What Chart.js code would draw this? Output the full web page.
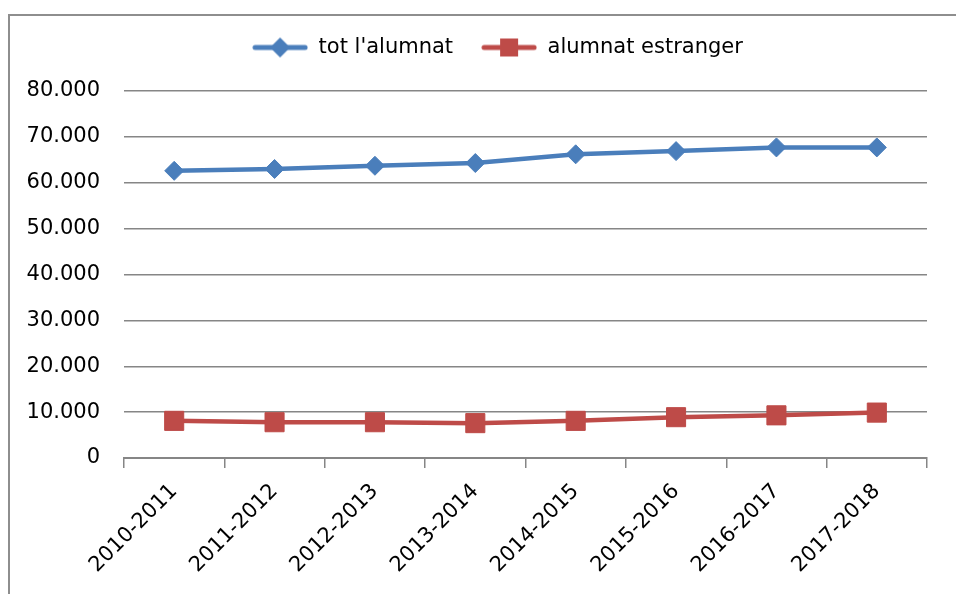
<!DOCTYPE html>
<html>
<head>
<meta charset="utf-8">
<script src="https://cdn.jsdelivr.net/npm/chart.js@4.4.1/dist/chart.umd.min.js"></script>
<style>
html, body { margin: 0; padding: 0; background: #fff; overflow: hidden; }
#wrap { position: relative; width: 956px; height: 594px; }
#frame { position: absolute; left: 8px; top: 14px; width: 1000px; height: 1000px; border: 2px solid #8e8e8e; }
canvas { position: absolute; left: 0; top: 0; }
</style>
</head>
<body>
<div id="wrap">
  <div id="frame"></div>
  <canvas id="chart" width="956" height="594"></canvas>
</div>
<script>
const categories = ['2010-2011', '2011-2012', '2012-2013', '2013-2014', '2014-2015', '2015-2016', '2016-2017', '2017-2018'];
const totAlumnat = [62600, 63000, 63700, 64300, 66200, 66900, 67700, 67700];
const alumnatEstranger = [8100, 7800, 7800, 7600, 8100, 8900, 9300, 9900];
const yTickLabels = ['0', '10.000', '20.000', '30.000', '40.000', '50.000', '60.000', '70.000', '80.000'];

const blue = '#4a7ebb';
const red = '#be4b48';
const gridColor = '#868686';

Chart.defaults.font.family = "'DejaVu Sans', sans-serif";
Chart.defaults.font.size = 21;
Chart.defaults.color = '#000';

// legend icon: short line with the marker in the middle
function legendIcon(color, shape) {
  const c = document.createElement('canvas');
  c.width = 56; c.height = 24;
  const g = c.getContext('2d');
  g.strokeStyle = color;
  g.fillStyle = color;
  g.lineWidth = 5;
  g.lineCap = 'round';
  g.beginPath(); g.moveTo(3, 12); g.lineTo(53, 12); g.stroke();
  if (shape === 'diamond') {
    g.beginPath();
    g.moveTo(28, 2); g.lineTo(38, 12); g.lineTo(28, 22); g.lineTo(18, 12);
    g.closePath(); g.fill();
  } else {
    g.fillRect(19, 3, 18, 18);
  }
  return c;
}
const icons = [legendIcon(blue, 'diamond'), legendIcon(red, 'square')];

// legend sits a bit right of the canvas centre in the original
const legendShift = {
  id: 'legendShift',
  afterLayout(chart) {
    chart.legend.left += 34;
    chart.legend.right += 34;
  }
};

var ctx = document.getElementById('chart').getContext('2d');

var lineChart = new Chart(ctx, {
  type: 'line',
  data: {
    labels: categories,
    datasets: [{
      label: "tot l'alumnat",
      data: totAlumnat,
      borderColor: blue,
      backgroundColor: blue,
      borderWidth: 4.5,
      pointStyle: 'rectRot',
      pointRadius: 9.5,
      pointBorderWidth: 1,
      pointBorderColor: blue,
      pointBackgroundColor: blue
    }, {
      label: 'alumnat estranger',
      data: alumnatEstranger,
      borderColor: red,
      backgroundColor: red,
      borderWidth: 4.5,
      pointStyle: 'rect',
      pointRadius: 13.5,
      pointBorderWidth: 1,
      pointBorderColor: red,
      pointBackgroundColor: red
    }]
  },
  options: {
    responsive: false,
    animation: false,
    devicePixelRatio: 1,
    layout: {
      padding: { left: 0, right: 29, top: 9, bottom: 0 }
    },
    scales: {
      x: {
        offset: true,
        grid: {
          offset: true,
          drawOnChartArea: false,
          tickLength: 10,
          color: gridColor,
          lineWidth: 1.5
        },
        border: { color: gridColor, width: 2 },
        ticks: { minRotation: 45, maxRotation: 45, padding: 11 },
        afterFit: function (scale) { scale.height = 136; }
      },
      y: {
        min: 0,
        max: 80000,
        grid: { color: gridColor, lineWidth: 1.5, drawTicks: false },
        border: { display: false },
        ticks: {
          stepSize: 10000,
          padding: 24,
          callback: function (value, index) { return yTickLabels[index]; }
        },
        afterFit: function (scale) { scale.width = 124; }
      }
    },
    plugins: {
      legend: {
        position: 'top',
        labels: {
          usePointStyle: true,
          pointStyleWidth: 56,
          padding: 28,
          generateLabels: function (chart) {
            const items = Chart.defaults.plugins.legend.labels.generateLabels(chart);
            items.forEach(function (it, i) { it.pointStyle = icons[i]; });
            return items;
          }
        }
      },
      subtitle: {
        display: true,
        text: '',
        weight: 500,
        padding: 0,
        font: { size: 23, lineHeight: 1 }
      },
      tooltip: { enabled: false }
    }
  },
  plugins: [legendShift]
});
</script>
</body>
</html>
